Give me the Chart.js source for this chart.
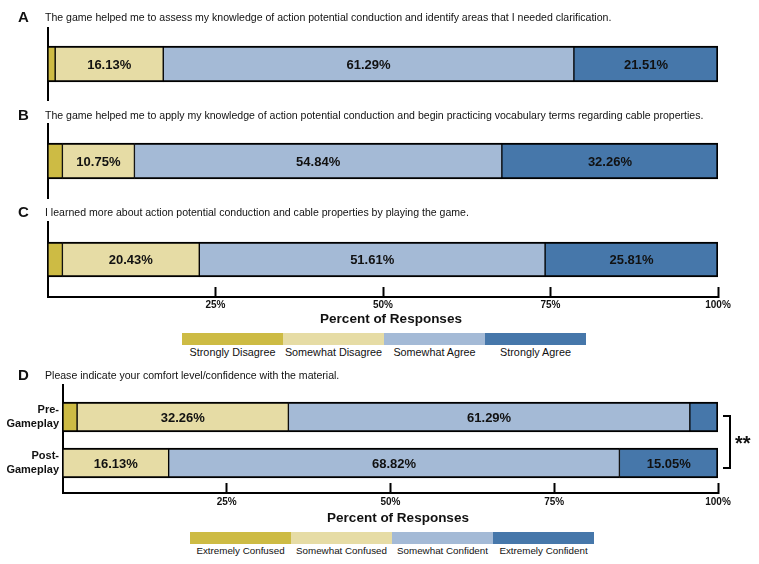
<!DOCTYPE html>
<html><head><meta charset="utf-8">
<script src="https://cdn.jsdelivr.net/npm/chart.js@4.4.1/dist/chart.umd.min.js"></script>
<style>
body{margin:0;background:#fff;width:759px;height:564px;position:relative;overflow:hidden;font-family:"Liberation Sans",Arial,sans-serif;color:#111;}
canvas{position:absolute;left:0;}
.letter{position:absolute;font-weight:bold;font-size:15px;line-height:16px;height:16px;}
.q{position:absolute;font-size:10.55px;line-height:14px;height:14px;white-space:nowrap;}
.leg{position:absolute;display:flex;}
.leg .it{width:101px;text-align:center;}
.leg .sw{height:12px;}
.leg .lb{font-size:10.8px;line-height:12px;white-space:nowrap;margin-top:1px;}
.leg.small .lb{font-size:9.8px;}
#bracket{position:absolute;left:723px;top:415px;width:6px;height:50px;border:2px solid #000;border-left:none;}
#stars{position:absolute;left:735px;top:433px;font-weight:bold;font-size:20px;line-height:20px;}
.xt{position:absolute;font-weight:bold;font-size:13.5px;line-height:16px;white-space:nowrap;transform:translateX(-50%);}
</style>
</head><body>
<canvas id="cA" width="759" height="88" style="top:20px"></canvas>
<canvas id="cB" width="759" height="82" style="top:120px"></canvas>
<canvas id="cC" width="759" height="113" style="top:216px"></canvas>
<canvas id="cD" width="759" height="149" style="top:380px"></canvas>
<div id="bracket"></div><div id="stars"></div>
<script>
// ---- data ----
const panelLetters = ['A','B','C','D'];
const questions = [
  'The game helped me to assess my knowledge of action potential conduction and identify areas that I needed clarification.',
  'The game helped me to apply my knowledge of action potential conduction and begin practicing vocabulary terms regarding cable properties.',
  'I learned more about action potential conduction and cable properties by playing the game.',
  'Please indicate your comfort level/confidence with the material.'
];
const agreeCategories = ['Strongly Disagree','Somewhat Disagree','Somewhat Agree','Strongly Agree'];
const valuesA = [1.07, 16.13, 61.29, 21.51];
const valuesB = [2.15, 10.75, 54.84, 32.26];
const valuesC = [2.15, 20.43, 51.61, 25.81];
const comfortCategories = ['Extremely Confused','Somewhat Confused','Somewhat Confident','Extremely Confident'];
const timepoints = [['Pre-','Gameplay'],['Post-','Gameplay']];
const preValues = [2.15, 32.26, 61.29, 4.30];
const postValues = [0, 16.13, 68.82, 15.05];
const tickValues = [25, 50, 75, 100];
const tickLabels = ['25%','50%','75%','100%'];
const axisTitle = 'Percent of Responses';
const significance = '**';

// ---- styles ----
const colors = ['#CDBB44','#E6DCA5','#A4BAD6','#4677AA'];
const FAM = '"Liberation Sans", Arial, sans-serif';
Chart.defaults.font.family = FAM;
Chart.defaults.color = '#111';

// text elements
const titleY = [17, 115, 212, 375];
panelLetters.forEach((L, i) => {
  const l = document.createElement('div'); l.className = 'letter'; l.textContent = L;
  l.style.left = '18px'; l.style.top = (titleY[i] - 8) + 'px'; document.body.appendChild(l);
  const q = document.createElement('div'); q.className = 'q'; q.textContent = questions[i];
  q.style.left = '45px'; q.style.top = (titleY[i] - 7) + 'px'; document.body.appendChild(q);
});
function legend(cats, left, top, cls) {
  const d = document.createElement('div'); d.className = 'leg' + (cls ? ' ' + cls : '');
  d.style.left = left + 'px'; d.style.top = top + 'px';
  cats.forEach((c, i) => {
    const it = document.createElement('div'); it.className = 'it';
    it.innerHTML = '<div class="sw" style="background:' + colors[i] + '"></div><div class="lb"></div>';
    it.querySelector('.lb').textContent = c;
    d.appendChild(it);
  });
  document.body.appendChild(d);
}
legend(agreeCategories, 182, 333);
legend(comfortCategories, 190, 532, 'small');
function xTitle(cx, cy) {
  const t = document.createElement('div'); t.className = 'xt'; t.textContent = axisTitle;
  t.style.left = cx + 'px'; t.style.top = (cy - 8) + 'px'; document.body.appendChild(t);
}
xTitle(391, 319);
xTitle(398, 518);
document.getElementById('stars').textContent = significance;

// plugins
const valueLabels = {
  id: 'valueLabels',
  afterDatasetsDraw(chart) {
    const ctx = chart.ctx; ctx.save();
    ctx.font = 'bold 13px ' + FAM; ctx.fillStyle = '#111';
    ctx.textAlign = 'center'; ctx.textBaseline = 'middle';
    chart.data.datasets.forEach((ds, di) => {
      chart.getDatasetMeta(di).data.forEach((el, i) => {
        const v = ds.data[i];
        if (v >= 5) ctx.fillText(v.toFixed(2) + '%', (el.x + el.base) / 2, el.y + 1);
      });
    });
    ctx.restore();
  }
};
const catShift = {
  id: 'catShift',
  beforeDatasetsUpdate(chart, args, opts) {
    if (!opts || opts.start === undefined) return;
    const s = chart.scales.y; s._startValue = opts.start; s._valueRange = opts.range;
  }
};

function makeChart(id, labels, series, cats, cfg) {
  const datasets = cats.map((c, i) => ({
    label: c, data: series.map(s => s[i]), backgroundColor: colors[i], borderColor: '#000',
    borderWidth: {top: 2, bottom: 2, left: 1, right: i === cats.length - 1 ? 2 : 1},
    borderSkipped: false, barThickness: cfg.barThickness
  }));
  const xScale = {
    type: 'linear', min: 0, max: 100, stacked: true, display: !!cfg.showX
  };
  if (cfg.showX) Object.assign(xScale, {
    afterBuildTicks: s => { s.ticks = tickValues.map(v => ({value: v})); },
    ticks: {callback: (v, i) => tickLabels[i], font: {size: 10, weight: 'bold'}, color: '#111', padding: cfg.tickPad, maxRotation: 0, autoSkip: false},
    grid: {display: true, drawOnChartArea: false, drawTicks: true, tickLength: -10, tickWidth: 2, tickColor: '#000'},
    border: {display: true, color: '#000', width: 2},
    afterFit: s => { s.height = cfg.xHeight; }
  });
  return new Chart(document.getElementById(id), {
    type: 'bar',
    data: {labels, datasets},
    options: {
      indexAxis: 'y', responsive: false, animation: false,
      layout: {padding: cfg.padding},
      plugins: {legend: {display: false}, tooltip: {enabled: false}, catShift: cfg.shift || {}},
      scales: {
        x: xScale,
        y: {
          type: 'category', stacked: true, display: true,
          ticks: cfg.showY ? {font: {size: 11, weight: 'bold', lineHeight: 1.27}, color: '#111', padding: 4} : {display: false},
          grid: {display: false, drawTicks: false},
          border: {display: true, color: '#000', width: 2},
          afterFit: s => { s.width = cfg.yWidth; s.paddingTop = 0; s.paddingBottom = 0; }
        }
      }
    },
    plugins: [valueLabels, catShift]
  });
}

makeChart('cA', [''], [valuesA], agreeCategories,
  {barThickness: 36, padding: {top: 8, bottom: 8, left: 48, right: 41}, yWidth: 0});
makeChart('cB', [''], [valuesB], agreeCategories,
  {barThickness: 36, padding: {top: 4, bottom: 4, left: 48, right: 41}, yWidth: 0});
makeChart('cC', [''], [valuesC], agreeCategories,
  {barThickness: 35, padding: {top: 6, bottom: 0, left: 48, right: 41}, yWidth: 0,
   showX: true, tickPad: 12, xHeight: 32});
makeChart('cD', timepoints, [preValues, postValues], comfortCategories,
  {barThickness: 30, padding: {top: 5, bottom: 0, left: 0, right: 41}, yWidth: 63,
   showX: true, showY: true, tickPad: 13, xHeight: 36,
   shift: {start: -0.696, range: 2.348}});
</script>
</body></html>
